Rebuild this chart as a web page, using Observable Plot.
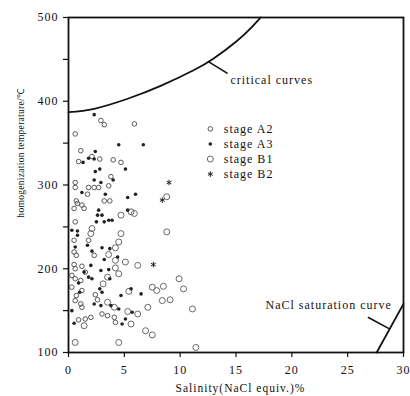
<!DOCTYPE html>
<html><head><meta charset="utf-8">
<script src="https://cdn.jsdelivr.net/npm/d3@7"></script>
<script src="https://cdn.jsdelivr.net/npm/@observablehq/plot@0.6"></script>
<style>body{margin:0;background:#fff}</style>
</head><body><div id="chart"></div>
<script>
const xTicks = [0, 5, 10, 15, 20, 25, 30];
const yTicks = [100, 200, 300, 400, 500];
const yMinorTicks = [150, 250, 350, 450];
const xTitle = "Salinity(NaCl equiv.)%";
const yTitle = "homogenization temperature/℃";

const stageA2 = [[2.9,377],[3.2,372],[5.9,373],[0.6,361],[1.1,341],[0.9,328],[2.1,334],[2.8,331],[4.0,330],[4.7,327],[3.8,310],[0.6,303],[0.6,297],[1.8,297],[2.3,297],[2.7,297],[3.6,299],[1.7,289],[0.7,281],[0.8,278],[1.2,276],[1.4,272],[3.2,281],[3.7,281],[0.5,272],[0.6,256],[0.5,234],[1.8,234],[0.5,220],[0.7,216],[2.3,216],[0.5,205],[0.6,200],[1.2,203],[1.5,196],[0.3,192],[0.6,188],[1.1,186],[0.3,178],[2.4,169],[2.6,163],[1.2,174],[0.7,168],[0.6,162],[1.1,158],[1.2,154],[3.0,146],[3.5,144],[4.1,142],[2.0,142],[1.5,140],[0.9,139],[4.2,136]];
const stageA3 = [[2.3,384],[4.5,348],[6.7,348],[2.4,340],[1.3,327],[1.8,332],[2.3,331],[5.1,319],[2.8,319],[2.4,316],[4.0,306],[2.3,306],[2.9,303],[1.2,291],[3.3,289],[5.3,285],[6.0,289],[2.7,270],[5.3,270],[2.6,264],[3.0,264],[2.5,256],[3.2,256],[3.6,258],[3.9,258],[0.3,246],[0.8,245],[0.8,240],[1.7,228],[0.6,226],[2.1,221],[3.0,225],[3.7,224],[4.4,214],[3.2,211],[2.0,204],[2.9,198],[3.6,199],[1.4,196],[1.8,190],[2.1,188],[3.7,188],[0.9,183],[2.8,176],[3.0,172],[1.0,172],[5.6,176],[6.5,170],[4.7,168],[2.3,158],[2.9,156],[3.8,156],[4.5,152],[0.3,150],[5.7,148],[0.5,135],[5.1,140],[4.8,134]];
const stageB1 = [[8.8,286],[5.6,268],[5.9,266],[4.7,264],[2.1,248],[2.0,242],[4.7,242],[8.8,244],[4.5,232],[4.2,225],[3.6,217],[4.2,210],[5.1,208],[6.2,204],[4.2,201],[4.5,194],[3.5,190],[3.1,182],[5.4,173],[7.5,178],[7.9,174],[8.5,179],[9.9,188],[10.3,176],[8.4,162],[9.1,163],[3.5,160],[4.1,154],[5.3,149],[6.2,146],[7.1,154],[11.1,152],[5.6,134],[1.4,132],[6.9,126],[7.5,121],[0.6,112],[4.5,112],[11.4,106]];
const stageB2 = [[9.0,303],[8.4,282],[7.6,205]];

const criticalCurve = [[0,387],[2.3,391],[5.3,403],[8.2,418],[11.2,437],[13.0,451],[15.0,471],[16.3,487],[17.2,500]];
const saturationCurve = [[27.6,100],[30,158]];
const criticalLabel = "critical curves";
const criticalLeader = [[12.56,447],[14.2,433.5]];
const saturationLabel = "NaCl saturation curve";
const saturationLeader = [[26.86,141.8],[28.7,128.5]];

const legendLabels = ["stage A2", "stage A3", "stage B1", "stage B2"];
const legendY = [367, 349, 331, 313];
const legendSymbolX = 12.7;
const legendTextX = 13.9;

const ink = "#111";
const styleA2 = {r: 2.3, stroke: "#585858", fill: "none", strokeWidth: 1};
const styleA3 = {r: 1.8, fill: "#222", stroke: "none"};
const styleB1 = {r: 3, stroke: "#686868", fill: "none", strokeWidth: 1};
const styleB2 = {r: 2.6, symbol: "asterisk", stroke: "#222", strokeWidth: 1};
const legendStyles = [styleA2, styleA3, styleB1, styleB2];

const chart = Plot.plot({
  width: 410, height: 396,
  marginLeft: 68, marginRight: 7, marginTop: 17, marginBottom: 44,
  style: {fontFamily: "'Liberation Serif', serif", fontSize: "12px", letterSpacing: "1px", color: ink, background: "#fff", overflow: "visible"},
  x: {domain: [0, 30]},
  y: {domain: [100, 500]},
  marks: [
    Plot.axisX(xTicks, {tickSize: 5, tickPadding: 8, label: null, stroke: ink, strokeWidth: 1.2, fontSize: 12}),
    Plot.axisY(yTicks, {tickSize: 5, tickPadding: 5, label: null, stroke: ink, strokeWidth: 1.2, fontSize: 12}),
    Plot.axisY(yMinorTicks, {tickSize: 5, tickFormat: () => "", label: null, stroke: ink, strokeWidth: 1.2}),
    Plot.frame({stroke: ink, strokeWidth: 1.8}),
    Plot.line(criticalCurve, {x: d => d[0], y: d => d[1], stroke: ink, strokeWidth: 1.8, curve: "natural"}),
    Plot.line(saturationCurve, {x: d => d[0], y: d => d[1], stroke: ink, strokeWidth: 1.8}),
    Plot.line(criticalLeader, {x: d => d[0], y: d => d[1], stroke: ink, strokeWidth: 1.6}),
    Plot.line(saturationLeader, {x: d => d[0], y: d => d[1], stroke: ink, strokeWidth: 1.6}),
    Plot.text([criticalLabel], {x: 14.5, y: 425, text: d => d, textAnchor: "start", fill: ink, fontSize: 12}),
    Plot.text([saturationLabel], {x: 17.64, y: 157, text: d => d, textAnchor: "start", fill: ink, fontSize: 12}),
    Plot.dot(stageA2, {x: d => d[0], y: d => d[1], ...styleA2}),
    Plot.dot(stageB1, {x: d => d[0], y: d => d[1], ...styleB1}),
    Plot.dot(stageA3, {x: d => d[0], y: d => d[1], ...styleA3}),
    Plot.dot(stageB2, {x: d => d[0], y: d => d[1], ...styleB2}),
    ...legendLabels.map((lab, i) => Plot.dot([lab], {x: legendSymbolX, y: legendY[i], ...legendStyles[i]})),
    Plot.text(legendLabels, {x: legendTextX, y: (d, i) => legendY[i], text: d => d, textAnchor: "start", fill: ink, fontSize: 12}),
    Plot.text([xTitle], {x: 15.4, y: 57, text: d => d, fill: ink, fontSize: 11.5}),
    Plot.text([yTitle], {x: -4.3, y: 338, text: d => d, rotate: -90, fill: ink, fontSize: 9.5})
  ]
});
d3.select(chart).selectAll("text").filter(function() { return this.textContent === yTitle; }).style("letter-spacing", "0.3px");
document.getElementById("chart").appendChild(chart);
</script>
</body></html>
